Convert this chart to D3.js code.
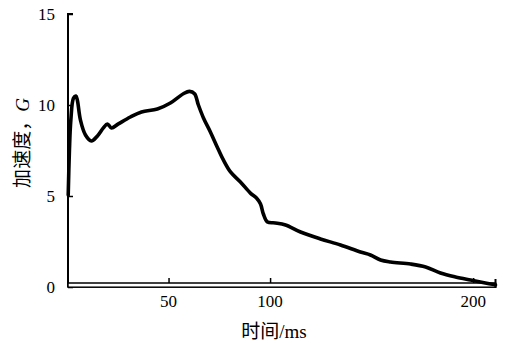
<!DOCTYPE html>
<html><head><meta charset="utf-8">
<script src="https://cdn.jsdelivr.net/npm/d3@7"></script>
<style>body{margin:0;background:#fff}</style>
</head><body>
<svg id="c" width="505" height="343"></svg>
<script>
const timeMs = [0.6,1.2,1.9,3.2,4.4,5.1,6.6,9.1,12.0,15.0,17.9,19.9,21.9,25.3,31.2,36.7,44.5,50.9,57.3,60.3,62.8,64.7,67.2,70.6,73.9,77.0,80.5,85.4,90.3,93.3,95.3,96.7,98.7,102.6,107.6,115,124.8,134.7,144.5,149.4,154.4,159.3,169.2,176.6,183.9,191.3,198.7,206,211];
const accelG = [5.05,7.53,9.18,10.38,10.49,10.27,9.18,8.35,8.02,8.30,8.74,8.96,8.74,8.96,9.34,9.62,9.78,10.11,10.62,10.75,10.62,10.0,9.29,8.52,7.71,6.98,6.32,5.77,5.16,4.89,4.56,4.01,3.57,3.52,3.41,3.02,2.64,2.31,1.92,1.76,1.48,1.37,1.26,1.10,0.77,0.55,0.38,0.22,0.12];
const xTicks = [50,100,200];
const yTicks = [0,5,10,15];

const svg = d3.select("#c");
const x = d3.scaleLinear().domain([0,211]).range([67,495.5]);
const y = d3.scaleLinear().domain([0,15]).range([287,14]);
const serif = "'Liberation Serif','Times New Roman',serif";
const cjk = "'Noto Sans CJK SC','Noto Sans',sans-serif";

// y axis
const ya = svg.append("g").attr("transform",`translate(${x(0)+1},0)`)
  .call(d3.axisRight(y).tickValues(yTicks).tickSize(5).tickFormat(""));
ya.select(".domain").attr("d",`M5,${y(15)}H0V${y(0)}`).attr("stroke","#000").attr("stroke-width",2);
ya.selectAll(".tick line").attr("stroke","#000").attr("stroke-width",1.5);
svg.append("g").selectAll("text").data(yTicks).join("text")
  .attr("x",55).attr("y",d=>y(d)).attr("dy","0.35em").attr("text-anchor","end")
  .attr("font-family",serif).attr("font-size",17).text(d=>d);

// x axis (double line)
const x0 = x(0)+1, x1 = x(211);
svg.append("rect").attr("x",x0).attr("y",y(0)-4).attr("width",x1-x0).attr("height",4.2)
  .attr("fill","#fff").attr("stroke","#000").attr("stroke-width",1.5);
svg.append("line").attr("x1",x1).attr("x2",x1).attr("y1",y(0)-8).attr("y2",y(0)+1)
  .attr("stroke","#000").attr("stroke-width",2);
const xa = svg.append("g").attr("transform",`translate(0,${y(0)-4})`)
  .call(d3.axisTop(x).tickValues(xTicks).tickSize(5).tickFormat(""));
xa.select(".domain").remove();
xa.selectAll(".tick line").attr("stroke","#000").attr("stroke-width",1.5);
svg.append("g").selectAll("text").data(xTicks).join("text")
  .attr("x",d=>x(d)).attr("y",307).attr("text-anchor","middle")
  .attr("font-family",serif).attr("font-size",17).text(d=>d);

// curve
const pts = timeMs.map((t,i)=>[t,accelG[i]]);
svg.append("path").datum(pts)
  .attr("d",d3.line().x(d=>x(d[0])).y(d=>y(d[1])).curve(d3.curveCatmullRom.alpha(0.5)))
  .attr("fill","none").attr("stroke","#000").attr("stroke-width",3.6)
  .attr("stroke-linejoin","round").attr("stroke-linecap","round");

// axis titles
const yl = svg.append("text").attr("transform","translate(29,143) rotate(-90)")
  .attr("text-anchor","middle").attr("font-size",19);
yl.append("tspan").attr("font-family",cjk).text("加速度，");
yl.append("tspan").attr("font-family",serif).attr("font-style","italic").text("G");

const xl = svg.append("text").attr("x",274).attr("y",338).attr("text-anchor","middle").attr("font-size",19);
xl.append("tspan").attr("font-family",cjk).text("时间");
xl.append("tspan").attr("font-family",serif).text("/ms");
</script>
</body></html>
